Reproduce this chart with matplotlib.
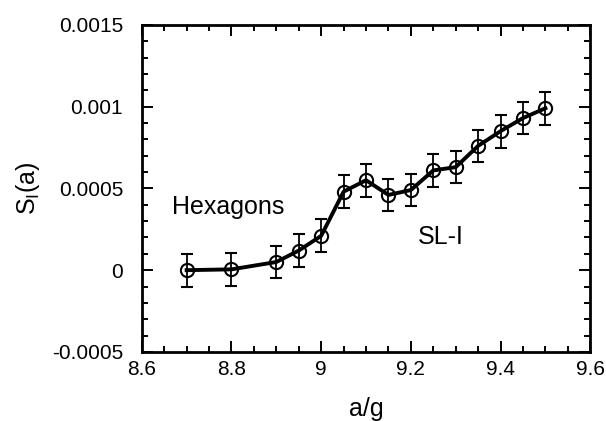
import matplotlib
matplotlib.use("Agg")
import matplotlib.pyplot as plt
from matplotlib.ticker import MultipleLocator

# data
a_over_g = [8.7, 8.8, 8.9, 8.95, 9.0, 9.05, 9.1, 9.15, 9.2, 9.25, 9.3, 9.35, 9.4, 9.45, 9.5]
s_i = [0.0, 0.000005, 0.00005, 0.00012, 0.00021, 0.00048, 0.00055, 0.00046, 0.00049,
       0.00061, 0.00063, 0.00076, 0.00085, 0.00093, 0.00099]
s_err = [0.0001] * len(a_over_g)

plt.rcParams['font.family'] = ['Liberation Sans', 'DejaVu Sans']
plt.rcParams['mathtext.default'] = 'regular'

fig = plt.figure(figsize=(6.06, 4.21), dpi=100)
ax = fig.add_axes([0.234, 0.164, 0.74, 0.777])

ax.errorbar(a_over_g, s_i, yerr=s_err, color='black', lw=2.8, marker='o', ms=9.5,
            mfc='none', mec='black', mew=1.5, ecolor='black', elinewidth=1.3, capsize=4, capthick=1.3)

ax.set_xlim(8.6, 9.6)
ax.set_ylim(-0.0005, 0.0015)
ax.xaxis.set_minor_locator(MultipleLocator(0.05))
ax.yaxis.set_minor_locator(MultipleLocator(0.0001))
ax.set_xticks([8.6, 8.8, 9.0, 9.2, 9.4, 9.6])
ax.set_xticklabels(['8.6', '8.8', '9', '9.2', '9.4', '9.6'])
ax.set_yticks([-0.0005, 0, 0.0005, 0.001, 0.0015])
ax.set_yticklabels(['-0.0005', '0', '0.0005', '0.001', '0.0015'])

ax.tick_params(which='both', direction='in', top=True, right=True, labelsize=15, width=1.4)
ax.tick_params(which='major', length=8)
ax.tick_params(which='minor', length=4)
ax.tick_params(axis='x', which='major', pad=6)
ax.tick_params(axis='y', which='major', pad=13.5)
for s in ax.spines.values():
    s.set_linewidth(2)

ax.text(8.668, 0.000385, 'Hexagons', fontsize=18, va='center', ha='left')
ax.text(9.216, 0.0002, 'SL-I', fontsize=18, va='center', ha='left')

ax.set_xlabel('a/g', fontsize=18, labelpad=13)
ax.set_ylabel('S$_I$(a)', fontsize=18, labelpad=7)

fig.savefig('out.png', dpi=100)
